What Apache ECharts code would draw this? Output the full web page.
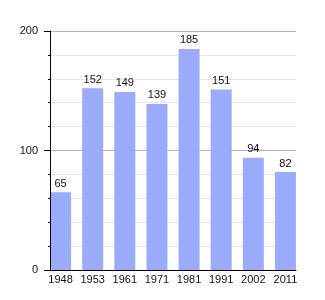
<!DOCTYPE html>
<html><head><meta charset="utf-8">
<script src="https://cdn.jsdelivr.net/npm/echarts@6/dist/echarts.min.js"></script>
<style>html,body{margin:0;padding:0;background:#fff}#c{width:325px;height:300px}</style>
</head><body><div id="c"></div>
<script>
const categories = ['1948','1953','1961','1971','1981','1991','2002','2011'];
const values = [65,152,149,139,185,151,94,82];
const yTicks = [0,100,200];

const font = 'Liberation Sans, Arial, sans-serif';
const chart = echarts.init(document.getElementById('c'), null, {renderer:'canvas'});
chart.setOption({
  animation:false,
  backgroundColor:'#fff',
  grid:[
    {left:50, right:29, top:31, bottom:30},
    {left:44.5, right:23.5, top:31, bottom:30}
  ],
  xAxis:[
    {type:'category', gridIndex:0, data:categories, z:10,
     axisLine:{show:true, lineStyle:{color:'#000', width:1}},
     axisTick:{show:false}, axisLabel:{show:false}, splitLine:{show:false}},
    {type:'category', gridIndex:1, data:categories,
     axisLine:{show:false}, axisTick:{show:false},
     axisLabel:{show:true, color:'#111', fontFamily:font, fontSize:11, margin:4}}
  ],
  yAxis:[
    {type:'value', gridIndex:0, position:'right', min:yTicks[0], max:yTicks[yTicks.length-1], interval:100, z:0,
     axisLine:{show:false}, axisTick:{show:false}, axisLabel:{show:false},
     splitLine:{show:true, lineStyle:{color:'#b4b4b4', width:1}},
     minorTick:{show:false, splitNumber:5},
     minorSplitLine:{show:true, lineStyle:{color:'#e4e4e4', width:1}}},
    {type:'value', gridIndex:1, min:yTicks[0], max:yTicks[yTicks.length-1], interval:100, show:false},
    {type:'value', gridIndex:0, position:'left', min:yTicks[0], max:yTicks[yTicks.length-1], interval:100, z:10,
     axisLine:{show:true, lineStyle:{color:'#000', width:1}},
     axisTick:{show:true, length:6, lineStyle:{color:'#000'}},
     minorTick:{show:true, splitNumber:5, length:2, lineStyle:{color:'#000'}},
     axisLabel:{show:true, color:'#111', fontFamily:font, fontSize:11, margin:12},
     splitLine:{show:false}}
  ],
  series:[{
    type:'bar', xAxisIndex:1, yAxisIndex:1, data:values, barWidth:21,
    itemStyle:{color:'#9aabfc'},
    label:{show:true, position:'top', distance:3, color:'#111', fontFamily:font, fontSize:11}
  }]
});
</script></body></html>
